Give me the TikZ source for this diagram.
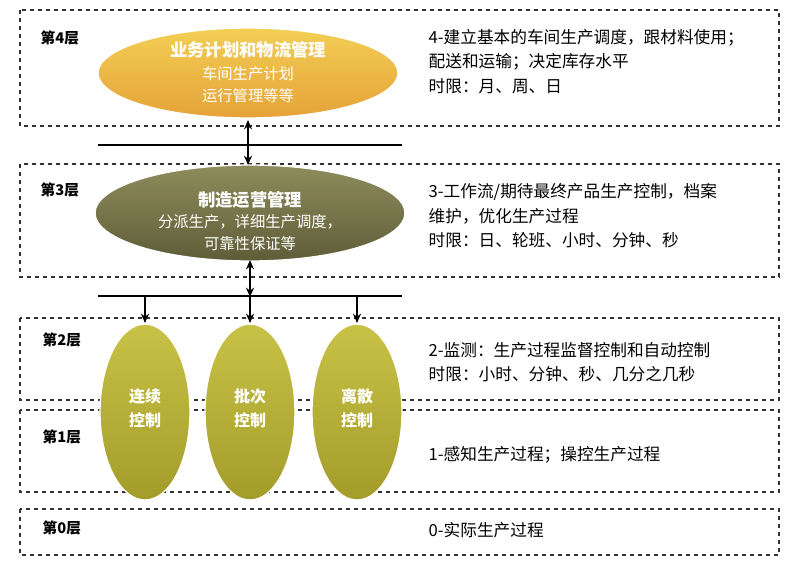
\documentclass[tikz,border=0pt]{standalone}
\usepackage{fontspec}
\setmainfont{Noto Sans CJK SC}
\usetikzlibrary{arrows.meta}
\definecolor{yl}{HTML}{F2CF55}\definecolor{yd}{HTML}{E6A238}
\definecolor{ol}{HTML}{8E8C5C}\definecolor{od}{HTML}{5E5D38}
\definecolor{gl}{HTML}{C8C247}\definecolor{gd}{HTML}{A39C2A}
\begin{document}
\begin{tikzpicture}[x=0.75pt,y=-0.75pt,
 layer/.style={draw=black!80,dashed,line width=1.2pt},
 lbl/.style={font=\fontsize{11}{12}\selectfont\bfseries,anchor=west},
 rt/.style={font=\fontsize{12.5}{14}\selectfont,anchor=west},
 ln/.style={line width=1.2pt},
 arr/.style={line width=1.2pt,-{Stealth[length=7pt,width=6pt]}},
 darr/.style={line width=1.2pt,{Stealth[length=7pt,width=6pt]}-{Stealth[length=7pt,width=6pt]}}]
\useasboundingbox (0,0) rectangle (800,569);
\draw[layer] (20,10) rectangle (779,126);
\draw[layer] (20,164) rectangle (779,277);
\draw[layer] (20,318) rectangle (779,400);
\draw[layer] (20,410) rectangle (779,492);
\draw[layer] (20,509) rectangle (779,555);
\node[lbl] (l4) at (36,38) {第4层};
\node[lbl] (l3) at (36,190) {第3层};
\node[lbl] (l2) at (38,340) {第2层};
\node[lbl] (l1) at (38,437) {第1层};
\node[lbl] (l0) at (38,528) {第0层};
% layer 4 ellipse
\shade[top color=yl,bottom color=yd,draw=white,line width=1pt] (248,73) ellipse [x radius=150,y radius=45];
\node[font=\fontsize{13}{15}\selectfont\bfseries,text=white] (e4) at (248,50) {业务计划和物流管理};
\node[font=\fontsize{11.5}{13}\selectfont,text=white] (e4b) at (248,74) {车间生产计划};
\node[font=\fontsize{11.5}{13}\selectfont,text=white] (e4c) at (248,96) {运行管理等等};
\coordinate (h1l) at (98,145); \coordinate (h1r) at (402,145);
\draw[ln] (h1l) -- (h1r);
\coordinate (a1t) at (248,120); \coordinate (a1b) at (248,165);
\draw[darr] (a1t) -- (a1b);
% layer 3
\shade[top color=ol,bottom color=od,draw=white,line width=1pt] (250,213) ellipse [x radius=155,y radius=48];
\node[font=\fontsize{13}{15}\selectfont\bfseries,text=white] (e3) at (250,200) {制造运营管理};
\node[font=\fontsize{11.5}{13}\selectfont,text=white] (e3b) at (250,222) {分派生产，详细生产调度，};
\node[font=\fontsize{11.5}{13}\selectfont,text=white] (e3c) at (250,244) {可靠性保证等};
\coordinate (h2l) at (98,296); \coordinate (h2r) at (402,296);
\draw[ln] (h2l) -- (h2r);
\coordinate (a2t) at (250,260); \coordinate (a2b) at (250,297);
\draw[darr] (a2t) -- (a2b);
\foreach \x/\n/\a/\b in {145/p1/连续/控制,250/p2/批次/控制,357/p3/离散/控制}{
 \coordinate (\n t) at (\x,296); \coordinate (\n b) at (\x,323);
 \shade[top color=gl,bottom color=gd,draw=white,line width=1pt] (\x,412) ellipse [x radius=45,y radius=88];
 \node[font=\fontsize{12}{18}\selectfont\bfseries,text=white,align=center] (\n) at (\x,408) {\a\\\b};
 \draw[arr] (\n t) -- (\n b);
}
\node[rt] (t41) at (424,38) {4-建立基本的车间生产调度，跟材料使用；};
\node[rt] (t42) at (424,62) {配送和运输；决定库存水平};
\node[rt] (t43) at (424,86) {时限：月、周、日};
\node[rt] (t31) at (424,192) {3-工作流/期待最终产品生产控制，档案};
\node[rt] (t32) at (424,216) {维护，优化生产过程};
\node[rt] (t33) at (424,240) {时限：日、轮班、小时、分钟、秒};
\node[rt] (t21) at (424,350) {2-监测：生产过程监督控制和自动控制};
\node[rt] (t22) at (424,374) {时限：小时、分钟、秒、几分之几秒};
\node[rt] (t11) at (424,455) {1-感知生产过程；操控生产过程};
\node[rt] (t01) at (424,530) {0-实际生产过程};
\end{tikzpicture}
\end{document}
